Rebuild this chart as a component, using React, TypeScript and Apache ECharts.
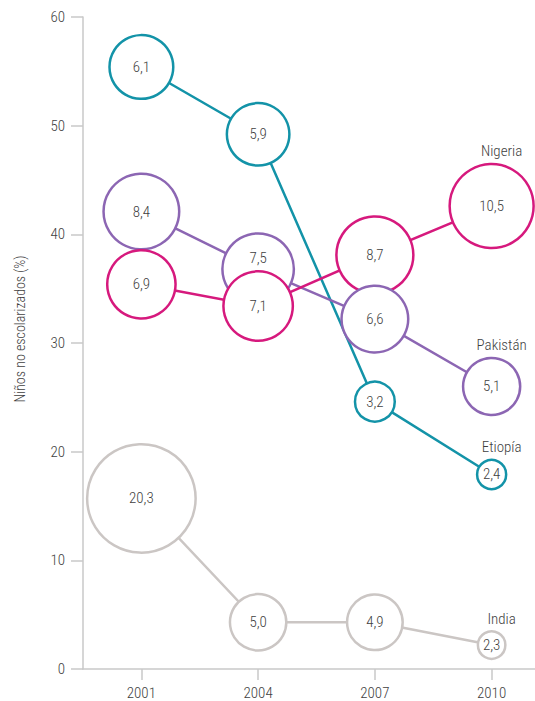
import React, { useEffect, useRef } from "react";
import * as echarts from "echarts";

const years = ["2001", "2004", "2007", "2010"];
const countries = ["Etiopía", "Pakistán", "Nigeria", "India"];
const countryColors = ["#1393a8", "#8c66b3", "#d6197d", "#cbc6c4"];

// % of out-of-school children (y position)
const etiopiaPct = [55.4, 49.2, 24.6, 17.9];
const pakistanPct = [42.1, 36.8, 32.2, 26.0];
const nigeriaPct = [35.4, 33.4, 38.1, 42.6];
const indiaPct = [15.7, 4.3, 4.3, 2.2];

// millions of out-of-school children (bubble size / label)
const etiopiaKids = [6.1, 5.9, 3.2, 2.4];
const pakistanKids = [8.4, 7.5, 6.6, 5.1];
const nigeriaKids = [6.9, 7.1, 8.7, 10.5];
const indiaKids = [20.3, 5.0, 4.9, 2.3];

const yTicks = { min: 0, max: 60, interval: 10 };
const axisTitle = "Niños no escolarizados (%)";

// label nudges (styling) for overlapping bubbles, keyed "country|year"
const labelNudges: Record<string, number[]> = { "Pakistán|2004": [0, -11] };

const FONT =
  "'Roboto Condensed','Liberation Sans Narrow','DejaVu Sans Condensed','Noto Sans',sans-serif";
const TEXT = "#3f3f3f";
const AXIS = "#c9c9c9";
const STROKE = 2.5;
const FS = 15;
const FW = 300;

const pctSeries = [etiopiaPct, pakistanPct, nigeriaPct, indiaPct];
const kidsSeries = [etiopiaKids, pakistanKids, nigeriaKids, indiaKids];

const bubbleSize = (v: number) => 37.2 * Math.log(v) - 1 - STROKE;
const fmt = (v: number) => v.toFixed(1).replace(".", ",");

export default function App() {
  const ref = useRef<HTMLDivElement>(null);

  useEffect(() => {
    document.body.style.margin = "0";
    if (!ref.current) return;
    const chart = echarts.init(ref.current, null, { renderer: "svg" });

    const bubbles: any[] = [];
    countries.forEach((c, ci) => {
      years.forEach((y, yi) => {
        const nudge = labelNudges[c + "|" + y];
        const item: any = {
          value: [yi, pctSeries[ci][yi], kidsSeries[ci][yi], ci],
          itemStyle: {
            color: "#ffffff",
            borderColor: countryColors[ci],
            borderWidth: STROKE,
            opacity: 1,
          },
        };
        if (nudge) item.label = { offset: nudge };
        bubbles.push(item);
      });
    });
    bubbles.sort((a, b) => b.value[2] - a.value[2]);

    const names = countries.map((c, ci) => {
      const last = years.length - 1;
      return {
        value: [last, pctSeries[ci][last], kidsSeries[ci][last], ci],
        name: c,
      };
    });

    const lineSeries = countries.map((c, ci) => ({
      type: "line",
      name: c,
      data: pctSeries[ci],
      symbol: "none",
      z: 2,
      silent: true,
      lineStyle: { color: countryColors[ci], width: STROKE },
      itemStyle: { color: countryColors[ci] },
    }));

    chart.setOption({
      animation: false,
      textStyle: { fontFamily: FONT, fontWeight: FW },
      grid: {
        left: 83,
        right: -15,
        top: 17,
        bottom: 32,
        containLabel: false,
        outerBoundsMode: "none",
      },
      xAxis: {
        type: "category",
        data: years,
        boundaryGap: true,
        axisLine: { show: true, lineStyle: { color: AXIS, width: 1.5 } },
        axisTick: { show: true, alignWithLabel: true, length: 11, lineStyle: { color: AXIS, width: 1.5 } },
        axisLabel: { color: TEXT, fontSize: FS, fontFamily: FONT, fontWeight: FW, margin: 16 },
        splitLine: { show: false },
      },
      yAxis: {
        type: "value",
        min: yTicks.min,
        max: yTicks.max,
        interval: yTicks.interval,
        axisLine: { show: true, lineStyle: { color: AXIS, width: 1.5 } },
        axisTick: { show: true, length: 12, lineStyle: { color: AXIS, width: 1.5 } },
        axisLabel: { color: TEXT, fontSize: FS, fontFamily: FONT, fontWeight: FW, margin: 18 },
        splitLine: { show: false },
      },
      graphic: [
        {
          type: "text",
          x: 20,
          y: 329,
          rotation: Math.PI / 2,
          style: {
            text: axisTitle,
            fill: TEXT,
            fontSize: 14,
            fontFamily: FONT,
            fontWeight: FW,
            textAlign: "center",
            textVerticalAlign: "middle",
          },
        },
      ],
      series: [
        ...lineSeries,
        {
          type: "scatter",
          name: "bubbles",
          z: 3,
          silent: true,
          data: bubbles,
          symbol: "circle",
          symbolSize: (val: number[]) => bubbleSize(val[2]),
          itemStyle: { opacity: 1 },
          label: {
            show: true,
            position: "inside",
            color: TEXT,
            fontSize: FS,
            fontFamily: FONT,
            fontWeight: FW,
            formatter: (p: any) => fmt(p.value[2]),
          },
        },
        {
          type: "scatter",
          name: "names",
          z: 4,
          silent: true,
          data: names,
          symbol: "circle",
          symbolSize: (val: number[]) => bubbleSize(val[2]) + STROKE,
          itemStyle: { color: "rgba(0,0,0,0)", borderWidth: 0, opacity: 1 },
          label: {
            show: true,
            position: "top",
            distance: 4,
            offset: [10, 0],
            color: TEXT,
            fontSize: FS,
            fontFamily: FONT,
            fontWeight: FW,
            formatter: (p: any) => p.name,
          },
        },
      ],
    });

    return () => chart.dispose();
  }, []);

  return <div ref={ref} style={{ width: 535, height: 701 }} />;
}
